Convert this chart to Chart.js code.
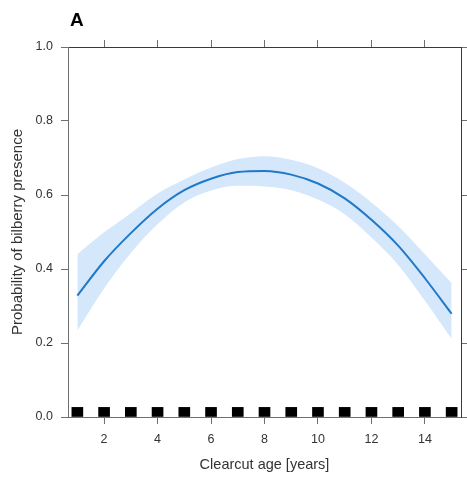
<!DOCTYPE html>
<html>
<head>
<meta charset="utf-8">
<script src="https://cdn.jsdelivr.net/npm/chart.js@4/dist/chart.umd.min.js"></script>
<style>
  html, body { margin: 0; padding: 0; background: #fff; }
  canvas { display: block; }
</style>
</head>
<body>
<canvas id="c" width="467" height="482"></canvas>
<script>
// Clearcut age (years) at which the fitted curve is evaluated
const ages = [1, 2, 3, 4, 5, 6, 7, 8, 9, 10, 11, 12, 13, 14, 15];
// Fitted probability of bilberry presence
const fitted = [0.328, 0.421, 0.497, 0.563, 0.613, 0.644, 0.662, 0.665, 0.655, 0.631, 0.591, 0.533, 0.463, 0.375, 0.279];
// 95% confidence band
const upperCI = [0.440, 0.499, 0.551, 0.604, 0.642, 0.674, 0.697, 0.705, 0.695, 0.672, 0.633, 0.580, 0.516, 0.440, 0.362];
const lowerCI = [0.234, 0.347, 0.443, 0.521, 0.580, 0.612, 0.625, 0.623, 0.613, 0.588, 0.548, 0.485, 0.411, 0.314, 0.211];
// Observed clearcut ages shown as a rug along the x axis
const rugAges = [1, 2, 3, 4, 5, 6, 7, 8, 9, 10, 11, 12, 13, 14, 15];
const rugHeight = 0.026;
// Axis ticks
const xTickValues = [2, 4, 6, 8, 10, 12, 14];
const yTickValues = [0, 0.2, 0.4, 0.6, 0.8, 1.0];

const pts = (xs, ys) => xs.map((x, i) => ({ x: x, y: ys[i] }));

const FONT = "'Liberation Sans', Arial, sans-serif";
const frameGray = '#6f6f6f';
const frameDark = '#3a3a3a';

const setTicks = vals => scale => { scale.ticks = vals.map(v => ({ value: v })); };

const panelLabel = {
  id: 'panelLabel',
  afterDraw(chart) {
    const ctx = chart.ctx;
    const area = chart.chartArea;
    ctx.save();
    ctx.fillStyle = '#000';
    ctx.font = 'bold 19px ' + FONT;
    ctx.textAlign = 'left';
    ctx.textBaseline = 'alphabetic';
    ctx.fillText('A', 70, 26);
    // y-axis title, centred on the plot panel
    ctx.fillStyle = '#333';
    ctx.font = '15px ' + FONT;
    ctx.translate(22, (area.top + area.bottom) / 2);
    ctx.rotate(-Math.PI / 2);
    ctx.textAlign = 'center';
    ctx.fillText('Probability of bilberry presence', 0, 0);
    ctx.restore();
  }
};

new Chart(document.getElementById('c'), {
  type: 'line',
  data: {
    datasets: [
      {
        label: 'fit',
        data: pts(ages, fitted),
        borderColor: '#2079c7',
        borderWidth: 2,
        pointRadius: 0,
        fill: false,
        cubicInterpolationMode: 'monotone'
      },
      {
        label: 'upper',
        data: pts(ages, upperCI),
        borderWidth: 0,
        borderColor: 'rgba(0,0,0,0)',
        backgroundColor: '#d5e7fb',
        pointRadius: 0,
        fill: '+1',
        cubicInterpolationMode: 'monotone'
      },
      {
        label: 'lower',
        data: pts(ages, lowerCI),
        borderWidth: 0,
        borderColor: 'rgba(0,0,0,0)',
        pointRadius: 0,
        fill: false,
        cubicInterpolationMode: 'monotone'
      },
      {
        type: 'bar',
        label: 'rug',
        data: rugAges.map(a => ({ x: a, y: rugHeight })),
        backgroundColor: '#000',
        borderWidth: 0,
        barThickness: 11
      }
    ]
  },
  options: {
    responsive: false,
    animation: false,
    devicePixelRatio: 1,
    layout: { padding: 0 },
    plugins: {
      legend: { display: false },
      tooltip: { enabled: false },
      title: { display: false }
    },
    scales: {
      x: {
        type: 'linear',
        position: 'bottom',
        min: 0.65,
        max: 15.35,
        offset: false,
        afterBuildTicks: setTicks(xTickValues),
        afterFit: s => { s.height = 65; },
        grid: { offset: false, drawOnChartArea: false, drawTicks: true, tickLength: 7, color: frameGray },
        border: { display: true, color: frameGray, width: 1 },
        ticks: { color: '#333', font: { family: FONT, size: 12.5 }, padding: 8, maxRotation: 0, callback: v => String(v) },
        title: { display: true, text: 'Clearcut age [years]', color: '#333', font: { family: FONT, size: 14.5 }, padding: { top: 0, bottom: 8 } }
      },
      x2: {
        type: 'linear',
        position: 'top',
        min: 0.65,
        max: 15.35,
        offset: false,
        afterBuildTicks: setTicks(xTickValues),
        afterFit: s => { s.height = 47; },
        grid: { offset: false, drawOnChartArea: false, drawTicks: true, tickLength: 7, color: frameGray },
        border: { display: true, color: frameDark, width: 1 },
        ticks: { display: false }
      },
      y: {
        type: 'linear',
        position: 'left',
        min: 0,
        max: 1,
        afterBuildTicks: setTicks(yTickValues),
        afterFit: s => { s.width = 68; },
        grid: { drawOnChartArea: false, drawTicks: true, tickLength: 7, color: frameGray },
        border: { display: true, color: frameGray, width: 1 },
        ticks: { color: '#333', font: { family: FONT, size: 12.5 }, padding: 8, callback: v => v.toFixed(1) }
      },
      y2: {
        type: 'linear',
        position: 'right',
        min: 0,
        max: 1,
        afterBuildTicks: setTicks(yTickValues),
        afterFit: s => { s.width = 6; },
        grid: { drawOnChartArea: false, drawTicks: true, tickLength: 7, color: frameGray },
        border: { display: true, color: frameDark, width: 1 },
        ticks: { display: false }
      }
    }
  },
  plugins: [panelLabel]
});
</script>
</body>
</html>
